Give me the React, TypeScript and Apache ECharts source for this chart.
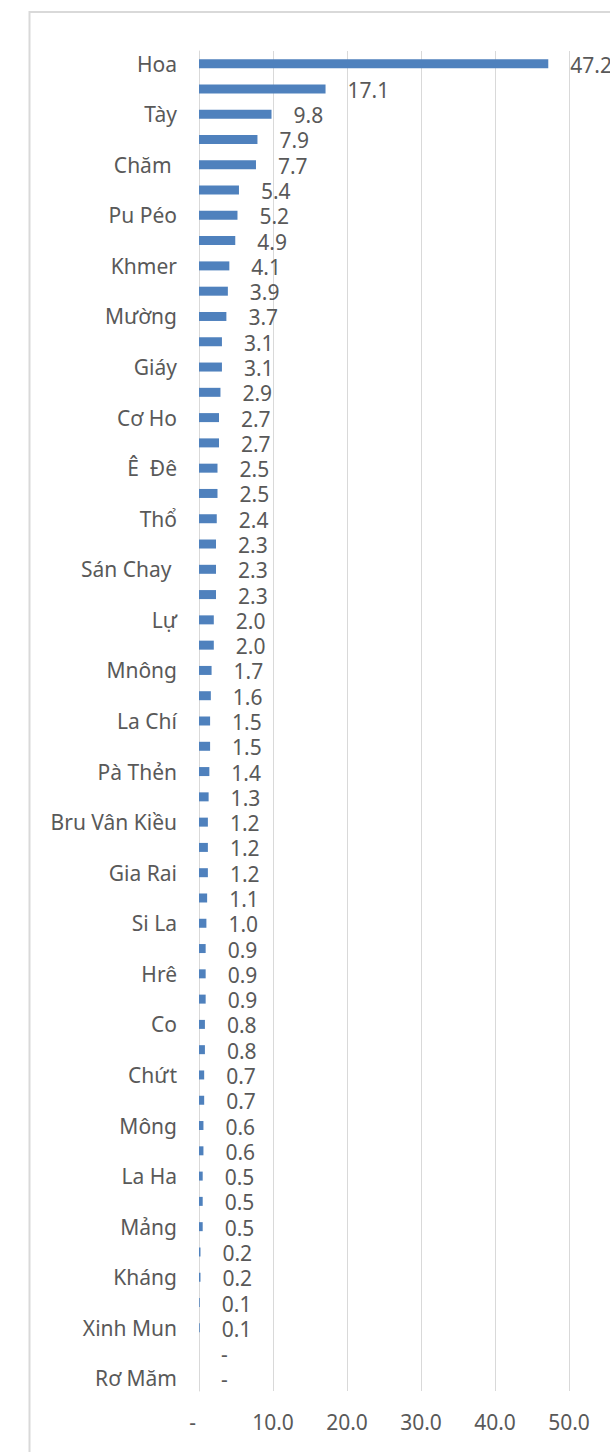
import React, { useEffect, useRef } from "react";
import * as echarts from "echarts";

const categories: string[] = [
  "Hoa", "Ngái", "Tày", "Sán Dìu", "Chăm ", "Nùng", "Pu Péo", "Lào", "Khmer", "Thái",
  "Mường", "Cống", "Giáy", "Bố Y", "Cơ Ho", "Chu Ru", "Ê  Đê", "Chơ Ro", "Thổ", "Dao",
  "Sán Chay ", "Stiêng", "Lự", "Ba Na", "Mnông", "Cơ Lao", "La Chí", "Lô Lô", "Pà Thẻn", "Mạ",
  "Bru Vân Kiều", "Xơ Đăng", "Gia Rai", "Ra Glai", "Si La", "Khơ Mú", "Hrê", "Tà Ôi", "Co", "Cơ Tu",
  "Chứt", "Giẻ Triêng", "Mông", "Hà Nhì", "La Ha", "Phù Lá", "Mảng", "La Hủ", "Kháng", "Ơ Đu",
  "Xinh Mun", "Brâu", "Rơ Măm",
];

const values: number[] = [
  47.2, 17.1, 9.8, 7.9, 7.7, 5.4, 5.2, 4.9, 4.1, 3.9,
  3.7, 3.1, 3.1, 2.9, 2.7, 2.7, 2.5, 2.5, 2.4, 2.3,
  2.3, 2.3, 2.0, 2.0, 1.7, 1.6, 1.5, 1.5, 1.4, 1.3,
  1.2, 1.2, 1.2, 1.1, 1.0, 0.9, 0.9, 0.9, 0.8, 0.8,
  0.7, 0.7, 0.6, 0.6, 0.5, 0.5, 0.5, 0.2, 0.2, 0.1,
  0.1, 0, 0,
];

const xMin = 0;
const xMax = 50;
const xStep = 10;

const TEXT = "#595959";
const GRID = "#d9d9d9";
const FONT = "'Noto Sans', sans-serif";

export default function App() {
  const ref = useRef<HTMLDivElement>(null);

  useEffect(() => {
    if (!ref.current) return;
    const chart = echarts.init(ref.current, undefined, { renderer: "svg" });
    chart.setOption({
      animation: false,
      backgroundColor: "#ffffff",
      graphic: [
        {
          type: "rect",
          shape: { x: 29.5, y: 12, width: 1200, height: 3000 },
          style: { fill: "none", stroke: GRID, lineWidth: 2 },
          silent: true,
        },
      ],
      grid: { left: 199, top: 51, right: 41, height: 1340, containLabel: false },
      xAxis: {
        type: "value",
        min: xMin,
        max: xMax,
        interval: xStep,
        axisLine: { show: false },
        axisTick: { show: false },
        splitLine: { show: true, lineStyle: { color: GRID, width: 1 } },
        axisLabel: {
          color: TEXT,
          fontFamily: FONT,
          fontSize: 21,
          margin: 20,
          formatter: (v: number) => (v === 0 ? "{d|-}" : v.toFixed(1)),
          rich: {
            d: { color: TEXT, fontFamily: FONT, fontSize: 21, padding: [0, 13, 0, 0] },
          },
        },
      },
      yAxis: {
        type: "category",
        inverse: true,
        data: categories,
        axisLine: { show: true, lineStyle: { color: GRID, width: 1 } },
        axisTick: { show: false },
        axisLabel: {
          interval: 1,
          color: TEXT,
          fontFamily: FONT,
          fontSize: 21,
          margin: 22,
        },
      },
      series: [
        {
          type: "bar",
          data: values,
          barWidth: 9,
          itemStyle: { color: "#4F81BD" },
          label: {
            show: true,
            position: "right",
            distance: 22,
            offset: [0, 1],
            color: TEXT,
            fontFamily: FONT,
            fontSize: 21,
            formatter: (p: any) => (p.value === 0 ? "-" : Number(p.value).toFixed(1)),
          },
        },
      ],
    });
    return () => chart.dispose();
  }, []);

  return (
    <div
      style={{
        position: "fixed",
        left: 0,
        top: 0,
        width: 610,
        height: 1452,
        overflow: "hidden",
        background: "#fff",
      }}
    >
      <div ref={ref} style={{ width: 610, height: 1452 }} />
    </div>
  );
}
